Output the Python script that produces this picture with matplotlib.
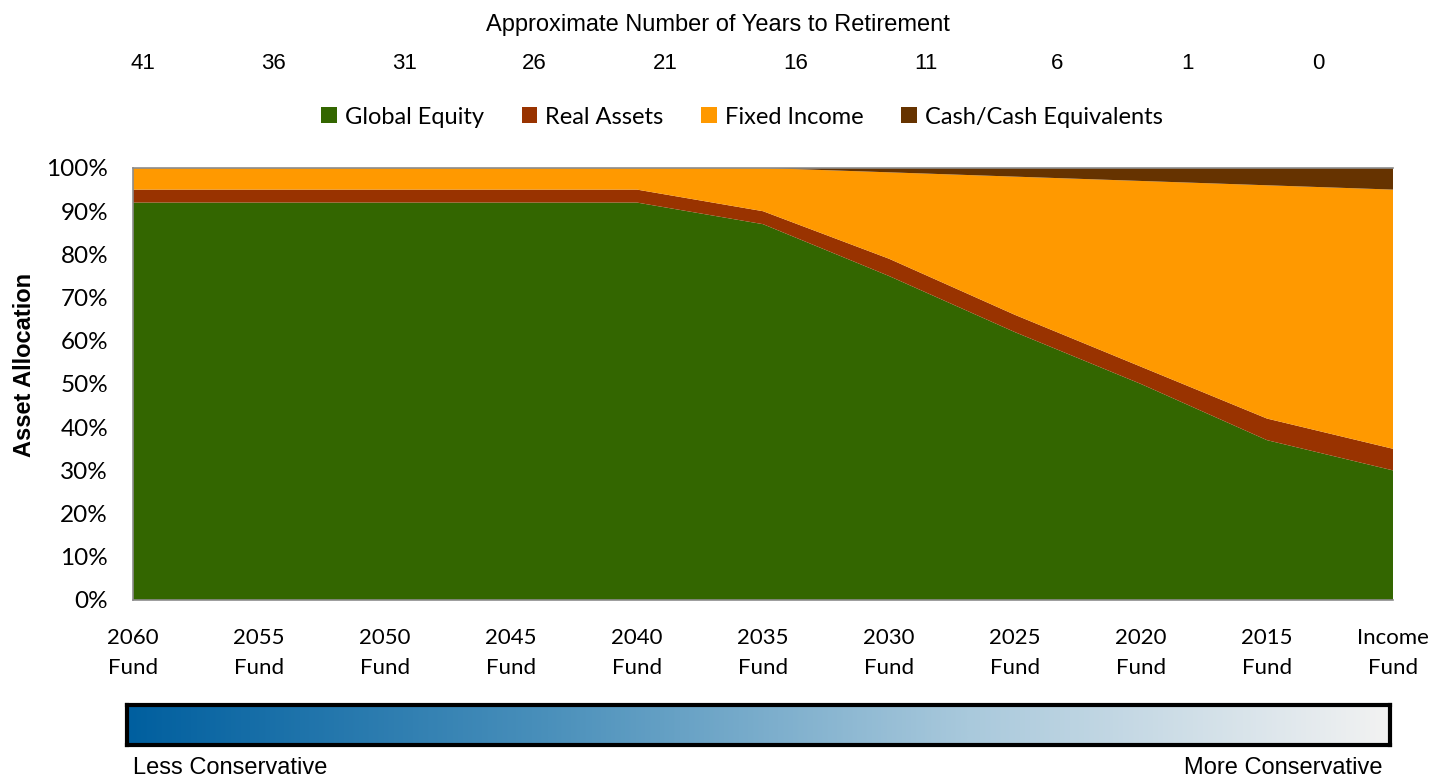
import numpy as np
import matplotlib
matplotlib.use("Agg")
import matplotlib.pyplot as plt
from matplotlib.colors import LinearSegmentedColormap
from matplotlib.patches import Patch

funds = ['2060\nFund', '2055\nFund', '2050\nFund', '2045\nFund', '2040\nFund',
         '2035\nFund', '2030\nFund', '2025\nFund', '2020\nFund', '2015\nFund',
         'Income\nFund']
years_to_retirement = ['41', '36', '31', '26', '21', '16', '11', '6', '1', '0']

global_equity = [92, 92, 92, 92, 92, 87, 75, 62, 50, 37, 30]
real_assets = [3, 3, 3, 3, 3, 3, 4, 4, 4, 5, 5]
fixed_income = [5, 5, 5, 5, 5, 10, 20, 32, 43, 54, 60]
cash = [0, 0, 0, 0, 0, 0, 1, 2, 3, 4, 5]

series_names = ['Global Equity', 'Real Assets', 'Fixed Income', 'Cash/Cash Equivalents']
colors = ['#336600', '#993300', '#FF9900', '#663300']

body_font = ['Lato', 'DejaVu Sans']
arial = ['Liberation Sans', 'DejaVu Sans']

fig = plt.figure(figsize=(14.34, 7.79), dpi=100)
ax = fig.add_axes([133 / 1434, 1 - 600 / 779, (1393 - 133) / 1434, (600 - 168) / 779])

x = np.arange(len(funds))
ax.stackplot(x, global_equity, real_assets, fixed_income, cash,
             colors=colors, linewidth=0)
ax.set_xlim(0, len(funds) - 1)
ax.set_ylim(0, 100)

ax.set_yticks(np.arange(0, 101, 10))
ax.set_yticklabels([f'{v}%' for v in range(0, 101, 10)], fontsize=17.5, family=body_font)
ax.set_xticks(x)
ax.set_xticklabels(funds, fontsize=16, family=body_font, linespacing=1.65)
ax.tick_params(axis='both', length=0)
ax.tick_params(axis='y', pad=18)
ax.tick_params(axis='x', pad=20)
for side in ['left', 'bottom', 'top']:
    ax.spines[side].set_color('#8c8c8c')
    ax.spines[side].set_linewidth(1.2)
ax.spines['right'].set_visible(False)

ax.set_ylabel('Asset Allocation', fontsize=17, fontweight='bold', family=arial)
ax.yaxis.set_label_coords(-0.077, 0.544)

# years-to-retirement scale along the top
top = ax.twiny()
top.set_xlim(-0.0766, 9.574)
top.set_xticks(np.arange(len(years_to_retirement)))
top.set_xticklabels(years_to_retirement, fontsize=16, family=arial)
top.tick_params(axis='x', length=0, pad=68)
top.tick_params(axis='y', left=False, right=False, labelleft=False, labelright=False)
for s in top.spines.values():
    s.set_visible(False)

fig.text(718 / 1434, 1 - 25 / 779, 'Approximate Number of Years to Retirement',
         ha='center', va='center', fontsize=17, family=arial)

handles = [Patch(facecolor=c, edgecolor='none') for c in colors]
fig.legend(handles, series_names, loc='center', bbox_to_anchor=(742 / 1434, 1 - 117 / 779),
           ncol=4, frameon=False, prop={'family': body_font, 'size': 17},
           handlelength=0.65, handleheight=0.65, handletextpad=0.35, columnspacing=1.6)

# risk gradient bar
gax = fig.add_axes([127 / 1434, 1 - 745 / 779, (1390 - 127) / 1434, 40 / 779])
cmap = LinearSegmentedColormap.from_list('risk', ['#005f9f', '#4a90bb', '#a9c9dc', '#f2f2f2'])
gax.imshow(np.linspace(0, 1, 512).reshape(1, -1), aspect='auto', cmap=cmap,
           extent=[0, 1, 0, 1])
gax.set_xticks([])
gax.set_yticks([])
for s in gax.spines.values():
    s.set_linewidth(3)
    s.set_color('black')

fig.text(133 / 1434, 1 - 768 / 779, 'Less Conservative', ha='left', va='center',
         fontsize=17, family=arial)
fig.text(1383 / 1434, 1 - 768 / 779, 'More Conservative', ha='right', va='center',
         fontsize=17, family=arial)

fig.savefig('out.png', dpi=100)
